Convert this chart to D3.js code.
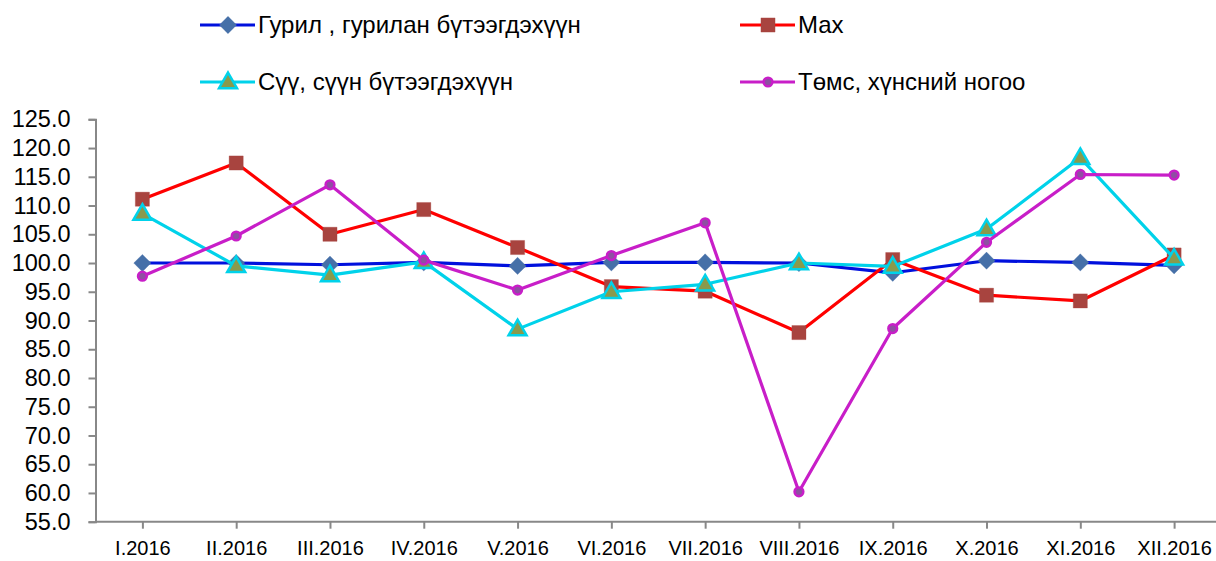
<!DOCTYPE html>
<html>
<head>
<meta charset="utf-8">
<script src="https://cdn.jsdelivr.net/npm/d3@7"></script>
<style>
  body { margin: 0; background: #fff; }
  svg text { font-family: "Liberation Sans", Arial, sans-serif; fill: #000; }
</style>
</head>
<body>
<svg id="chart" width="1216" height="561"></svg>
<script>
const months = ["I.2016", "II.2016", "III.2016", "IV.2016", "V.2016", "VI.2016",
                "VII.2016", "VIII.2016", "IX.2016", "X.2016", "XI.2016", "XII.2016"];

const flour = [100.0, 100.0, 99.7, 100.1, 99.5, 100.1, 100.1, 100.0, 98.3, 100.4, 100.1, 99.6];
const meat  = [111.1, 117.4, 105.0, 109.3, 102.7, 95.9, 95.1, 87.9, 100.6, 94.4, 93.4, 101.4];
const milk  = [108.6, 99.5, 97.9, 100.2, 88.5, 95.0, 96.3, 100.0, 99.4, 105.9, 118.3, 100.8];
const veg   = [97.7, 104.7, 113.6, 100.5, 95.3, 101.3, 107.0, 60.2, 88.6, 103.6, 115.4, 115.3];

const yTicks = d3.range(55, 125.1, 5);

const series = [
    { name: "Гурил , гурилан бүтээгдэхүүн", values: flour, line: "#0010dd", fill: "#4670a8", stroke: "#4670a8", shape: "diamond" },
    { name: "Мах", values: meat, line: "#ff0000", fill: "#a8443f", stroke: "#a8443f", shape: "square" },
    { name: "Сүү, сүүн бүтээгдэхүүн", values: milk, line: "#00d2ea", fill: "#8a9a4c", stroke: "#00d2ea", shape: "triangle" },
    { name: "Төмс, хүнсний ногоо", values: veg, line: "#c81ec8", fill: "#8e4fa2", stroke: "#c81ec8", shape: "circle" }
];

const svg = d3.select("#chart");
const plotLeft = 95.5, plotRight = 1221, plotTop = 119.3, plotBottom = 521.7;

const x = d3.scalePoint().domain(months).range([plotLeft, plotRight]).padding(0.5);
const y = d3.scaleLinear().domain([55, 125]).range([plotBottom, plotTop]);

// axes
const yAxis = svg.append("g")
    .attr("transform", `translate(${plotLeft},0)`)
    .call(d3.axisLeft(y).tickValues(yTicks).tickFormat(d3.format(".1f")).tickSize(7).tickPadding(18));
yAxis.selectAll("text").style("font-size", "23.5px");

const xAxis = svg.append("g")
    .attr("transform", `translate(0,${plotBottom})`)
    .call(d3.axisBottom(x).tickSize(7).tickPadding(12).tickSizeOuter(0));
xAxis.selectAll("text").style("font-size", "20px");
xAxis.select(".domain").attr("d", `M${plotLeft},0H${plotRight}`);

svg.selectAll(".domain, .tick line").attr("stroke", "#888").attr("stroke-width", 2);

const symbolFor = {
    diamond: d3.symbol().type(d3.symbolDiamond2).size(190),
    square: d3.symbol().type(d3.symbolSquare).size(200),
    triangle: d3.symbol().type(d3.symbolTriangle).size(140),
    circle: d3.symbol().type(d3.symbolCircle).size(60)
};

function drawMarker(g, s, cx, cy) {
    const p = g.append("path")
        .attr("d", symbolFor[s.shape]())
        .attr("transform", `translate(${cx},${cy})` + (s.shape === "triangle" ? " translate(0,1)" : ""))
        .attr("fill", s.fill);
    if (s.shape === "triangle" || s.shape === "circle") p.attr("stroke", s.stroke).attr("stroke-width", 2.5);
    else p.attr("stroke", s.stroke).attr("stroke-width", 0.5).attr("stroke-opacity", 0.6);
}

const line = d3.line().x((d, i) => x(months[i])).y(d => y(d));

series.forEach(s => {
    const g = svg.append("g");
    g.append("path")
        .datum(s.values)
        .attr("fill", "none")
        .attr("stroke", s.line)
        .attr("stroke-width", 3.2)
        .attr("stroke-linejoin", "round")
        .attr("d", line);
    s.values.forEach((v, i) => drawMarker(g, s, x(months[i]), y(v)));
});

// legend
const legendPos = [[200, 25], [740, 25], [200, 82], [740, 82]];
series.forEach((s, i) => {
    const [lx, ly] = legendPos[i];
    const g = svg.append("g");
    g.append("line")
        .attr("x1", lx).attr("x2", lx + 55)
        .attr("y1", ly).attr("y2", ly)
        .attr("stroke", s.line).attr("stroke-width", 3.2);
    drawMarker(g, s, lx + 28, ly);
    g.append("text")
        .attr("x", lx + 58)
        .attr("y", ly)
        .attr("dy", "0.35em")
        .style("font-size", "24px")
        .text(s.name);
});
</script>
</body>
</html>
